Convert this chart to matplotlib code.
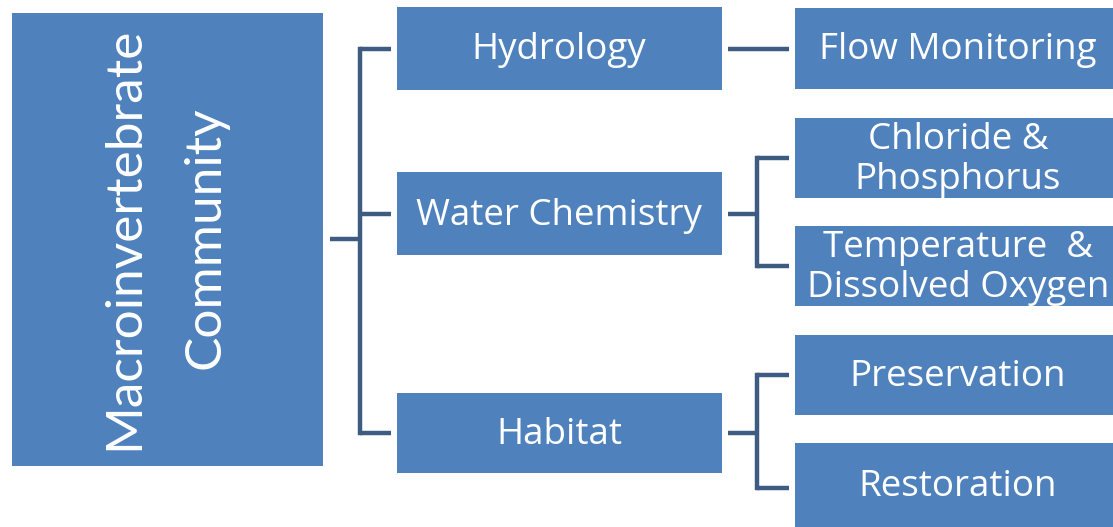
import matplotlib
matplotlib.use('Agg')
from matplotlib import pyplot as plt
from matplotlib.patches import Rectangle

plt.rcParams['font.family'] = ['Open Sans', 'DejaVu Sans']

# labels
root_label = 'Macroinvertebrate\nCommunity'
mid_labels = ['Hydrology', 'Water Chemistry', 'Habitat']
leaf_labels = ['Flow Monitoring', 'Chloride &\nPhosphorus', 'Temperature  &\nDissolved Oxygen',
               'Preservation', 'Restoration']
leaf_parent = [0, 1, 1, 2, 2]

# layout (pixels, y down)
W, H = 1113, 527
root_box = (12, 13, 323, 466)
mid_x = (397, 722)
mid_y = [(7, 90), (172, 255), (393, 473)]
leaf_x = (795, 1120)
leaf_y = [(8, 89), (118, 198), (226, 306), (335, 415), (443, 530)]

box_color = '#4f81bd'
line_color = '#3e5c82'
lw = 3.2

fig = plt.figure(figsize=(W / 100, H / 100), dpi=100)
ax = fig.add_axes([0, 0, 1, 1])
ax.set_xlim(0, W)
ax.set_ylim(H, 0)
ax.axis('off')

def box(x0, y0, x1, y1, text, size, cx=None):
    ax.add_patch(Rectangle((x0, y0), x1 - x0, y1 - y0, facecolor=box_color,
                           edgecolor='none'))
    if cx is None:
        cx = (x0 + min(x1, W)) / 2
    ax.text(cx, (y0 + min(y1, H)) / 2 + 2, text, color='white',
            fontsize=size, ha='center', va='center', linespacing=1.12)

# root
x0, y0, x1, y1 = root_box
ax.add_patch(Rectangle((x0, y0), x1 - x0, y1 - y0, facecolor=box_color, edgecolor='none'))
ax.text(165, 238, root_label, color='white', fontsize=37, rotation=90,
        ha='center', va='center', linespacing=1.95, family=['Lato', 'DejaVu Sans'])

# middle boxes
for (ya, yb), lab in zip(mid_y, mid_labels):
    box(mid_x[0], ya, mid_x[1], yb, lab, 26.5, cx=559)

# leaf boxes
for (ya, yb), lab in zip(leaf_y, leaf_labels):
    box(leaf_x[0], ya, leaf_x[1], yb, lab, 26.5, cx=958)

# connectors root -> middle
mid_c = [(a + b) / 2 for a, b in mid_y]
root_c = 239
ax.plot([330, 360], [root_c, root_c], color=line_color, lw=lw, solid_capstyle='butt')
ax.plot([360, 360], [mid_c[0], mid_c[-1]], color=line_color, lw=lw)
for yc in mid_c:
    ax.plot([360, 391], [yc, yc], color=line_color, lw=lw, solid_capstyle='butt')

# connectors middle -> leaves
leaf_c = [(a + min(b, 527)) / 2 for a, b in leaf_y]
leaf_c[-1] = 488
for i, yc in enumerate(mid_c):
    kids = [leaf_c[j] for j in range(len(leaf_labels)) if leaf_parent[j] == i]
    if len(kids) == 1:
        ax.plot([728, 789], [yc, yc], color=line_color, lw=lw, solid_capstyle='butt')
    else:
        ax.plot([728, 757], [yc, yc], color=line_color, lw=lw, solid_capstyle='butt')
        ax.plot([757, 757], [min(kids), max(kids)], color=line_color, lw=lw)
        for k in kids:
            ax.plot([757, 789], [k, k], color=line_color, lw=lw, solid_capstyle='butt')

fig.savefig('out.png', dpi=100)
